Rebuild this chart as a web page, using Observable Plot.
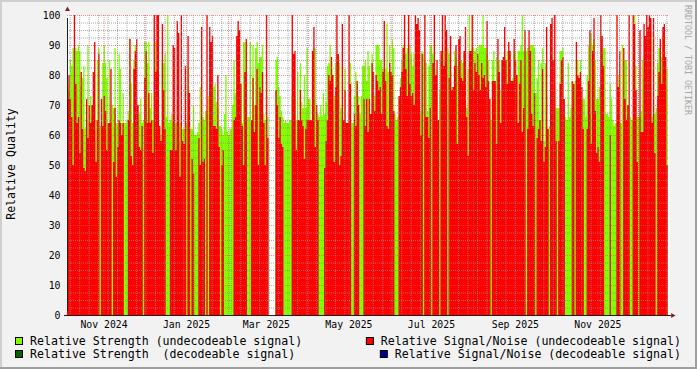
<!DOCTYPE html>
<html><head><meta charset="utf-8">
<script src="https://cdn.jsdelivr.net/npm/d3@7"></script>
<script src="https://cdn.jsdelivr.net/npm/@observablehq/plot@0.6"></script>
<style>
html,body{margin:0;padding:0;background:#F2F2F2;}
#chart{position:relative;width:697px;height:369px;overflow:hidden;background:#F2F2F2;}
#chart svg{display:block;}
</style></head><body><div id="chart"></div>
<script>
const startDate = "2024-10-05";
const endDate = "2025-12-24";
// Relative Signal/Noise (undecodeable), one value per day
const snr = [
72,80,72,66,50,100,77,64,66,54,
81,62,49,48,72,59,70,64,70,81,
91,51,65,87,0,72,63,73,68,55,
64,64,82,0,51,69,46,56,65,64,
60,64,0,0,0,65,92,53,50,82,
88,92,70,56,55,63,0,79,88,64,
74,64,65,54,100,81,100,100,63,58,
97,75,62,0,0,0,55,55,90,89,
55,98,94,46,100,58,57,83,0,93,
74,0,52,47,0,0,0,59,50,96,
51,52,0,100,0,96,91,93,63,63,
62,80,56,0,50,55,0,0,0,0,
0,0,0,65,66,93,98,95,77,63,
50,81,92,0,0,0,65,79,61,70,
82,50,76,74,81,64,50,100,59,null,
null,null,null,null,75,70,59,66,57,56,
0,0,0,0,0,0,100,87,88,55,
65,65,75,65,63,52,62,65,65,65,
65,88,96,56,70,65,0,0,0,0,
49,58,65,80,78,86,80,51,76,100,
87,50,53,97,65,75,64,64,100,77,
0,0,67,63,78,70,0,0,0,72,
63,72,61,72,67,84,81,68,80,78,
75,76,67,81,98,78,63,62,84,81,
80,68,0,0,0,73,76,81,89,100,
82,73,100,77,73,74,70,100,97,99,
95,60,87,0,100,66,66,59,69,0,
84,100,80,85,65,0,88,100,83,100,
95,0,79,93,75,76,83,90,57,92,
93,79,78,88,96,66,53,88,88,100,
75,84,81,87,80,75,84,79,80,76,
98,78,72,0,78,78,78,57,92,81,
64,85,86,96,85,77,91,88,78,78,
92,85,80,64,77,85,61,69,95,0,
62,95,88,67,63,74,0,59,62,65,
58,82,51,56,96,62,0,97,99,85,
100,58,0,58,77,85,86,72,0,0,
0,0,0,78,77,0,91,80,79,81,
76,62,0,0,62,78,95,57,88,99,
68,54,56,51,100,93,83,0,0,0,
0,60,0,0,0,0,100,76,88,0,
0,89,72,65,70,100,0,0,100,97,
75,51,0,95,61,61,97,93,100,96,
100,99,64,99,54,0,73,81,92,77,
96,97,86,50
];
// Relative Strength (undecodeable), one value per day
const strength = [
77,75,85,83,89,88,89,88,90,88,
76,79,83,62,65,90,64,73,66,66,
58,65,85,89,63,63,84,90,84,79,
64,85,64,70,69,89,64,64,87,82,
64,74,64,64,65,68,92,77,64,85,
90,70,65,67,72,64,65,91,91,84,
91,69,74,65,65,91,70,70,63,60,
85,84,87,66,100,64,65,67,64,64,
64,64,58,64,64,62,62,62,64,83,
64,62,62,70,60,60,61,64,76,66,
66,65,68,68,73,64,64,64,76,77,
71,69,63,63,62,60,67,80,61,60,
62,62,70,85,74,66,64,84,77,64,
91,91,65,66,66,91,65,90,70,89,
91,84,86,86,90,67,65,79,66,null,
null,null,null,null,85,86,76,73,68,66,
64,65,64,64,65,65,73,64,73,65,
81,64,84,71,69,80,69,89,72,72,
65,65,72,89,68,67,66,70,66,74,
67,71,83,84,90,82,68,73,84,87,
79,84,69,66,65,82,64,64,64,84,
64,64,73,81,78,73,67,73,83,83,
85,78,88,83,60,87,68,73,90,90,
90,85,85,82,53,82,97,81,90,53,
92,89,67,65,66,73,79,85,90,88,
87,89,85,90,87,83,87,70,87,79,
65,68,88,87,85,84,68,83,90,90,
87,77,82,65,65,75,85,73,88,81,
70,89,87,81,76,76,88,86,83,87,
80,85,84,87,84,69,82,100,88,89,
89,88,89,87,90,90,90,100,89,89,
87,85,72,65,85,88,73,86,81,85,
75,52,52,87,52,88,88,69,78,79,
87,88,59,88,88,90,100,88,88,88,
89,88,90,90,90,89,74,79,85,65,
84,89,58,84,73,62,63,54,47,85,
76,69,69,69,88,88,89,66,66,65,
84,66,69,78,77,78,85,85,71,85,
76,72,72,66,80,90,67,94,90,92,
85,72,72,76,76,87,89,89,67,67,
66,77,72,65,63,64,64,80,64,64,
90,71,85,85,67,65,66,65,65,100,
83,66,66,66,68,85,79,90,89,89,
97,94,66,94,67,69,84,89,89,86,
93,86,76,82
];
const yMajor = [0,10,20,30,40,50,60,70,80,90,100];
const yMinor = [2.5,5,7.5,12.5,15,17.5,22.5,25,27.5,32.5,35,37.5,42.5,45,47.5,52.5,55,57.5,62.5,65,67.5,72.5,75,77.5,82.5,85,87.5,92.5,95,97.5];
const labelDates = ["2024-11-01","2025-01-01","2025-03-01","2025-05-01","2025-07-01","2025-09-01","2025-11-01"];
const yTitle = "Relative Quality";
const watermark = "RRDTOOL / TOBI OETIKER";
const legendLeft = [
  {label: "Relative Strength (undecodeable signal)", color: "#80FF00"},
  {label: "Relative Strength  (decodeable signal)", color: "#006400"}
];
const legendRight = [
  {label: "Relative Signal/Noise (undecodeable signal)", color: "#FF0000"},
  {label: "Relative Signal/Noise (decodeable signal)", color: "#000090"}
];

const N = snr.length;
const t0 = new Date(startDate + "T00:00:00Z");
const tEnd = new Date(endDate + "T00:00:00Z");
const day = i => d3.utcDay.offset(t0, i);

function stepRows(values) {
  const rows = [];
  values.forEach((v, i) => {
    rows.push({date: day(i), v});
    if (v != null && (i === values.length - 1 || values[i + 1] == null)) rows.push({date: day(i + 1), v});
  });
  return rows;
}

const gridColor = "rgba(143,143,143,0.75)";
const mgridColor = "rgba(222,79,79,0.6)";
const weekLines = d3.utcMonday.range(t0, tEnd);
const monthLines = d3.utcMonth.range(t0, tEnd);

const plot = Plot.plot({
  width: 697, height: 369,
  marginLeft: 67, marginRight: 27.9, marginTop: 15, marginBottom: 54,
  style: {background: "transparent", fontFamily: "'DejaVu Sans Mono', monospace", fontSize: "9.8px", color: "#000", overflow: "visible"},
  x: {type: "utc", domain: [t0, tEnd]},
  y: {domain: [0, 100]},
  marks: [
    Plot.frame({fill: "white", stroke: "none"}),
    Plot.areaY(stepRows(strength), {x: "date", y1: 0, y2: "v", curve: "step-after", fill: "#80FF00"}),
    Plot.areaY(stepRows(snr), {x: "date", y1: 0, y2: "v", curve: "step-after", fill: "#FF0000"}),
    Plot.ruleY(yMinor, {stroke: gridColor, strokeDasharray: "1,1"}),
    Plot.ruleX(weekLines, {stroke: gridColor, strokeDasharray: "1,1"}),
    Plot.ruleX(monthLines, {stroke: mgridColor, strokeDasharray: "1,1"}),
    Plot.ruleY(yMajor.filter(v => v > 0), {stroke: mgridColor, strokeDasharray: "1,1"}),
    Plot.ruleY([0], {stroke: "#1f1f1f", insetLeft: -3, insetRight: -2}),
    Plot.ruleX([t0], {y1: 0, y2: 100, stroke: "#1f1f1f", insetTop: -4, insetBottom: -3}),
    Plot.dot([tEnd], {x: d => d, y: 0, symbol: "triangle2", rotate: 90, r: 2.4, fill: "#801f1f", dx: 3}),
    Plot.dot([t0], {x: d => d, y: 100, symbol: "triangle2", r: 2.4, fill: "#801f1f", dy: -6}),
    Plot.axisY(yMajor, {tickSize: 0, tickPadding: 7, label: null}),
    Plot.axisX(labelDates.map(d => new Date(d + "T00:00:00Z")), {tickSize: 0, tickPadding: 6, tickFormat: d3.utcFormat("%b %Y"), label: null})
  ]
});
document.getElementById("chart").appendChild(plot);

const svg = d3.select(plot);
const mono = "'DejaVu Sans Mono', monospace";
// y title
svg.append("text")
  .attr("transform", "translate(15,164) rotate(-90)")
  .attr("text-anchor", "middle")
  .attr("font-family", mono)
  .attr("font-size", "11.6px").attr("fill", "#000")
  .text(yTitle);
// watermark
svg.append("text")
  .attr("transform", "translate(685,5) rotate(90)")
  .attr("text-anchor", "start")
  .attr("font-family", mono)
  .attr("font-size", "8.3px").attr("fill", "#a6a6a6")
  .text(watermark);
// legend
const rowsY = [345, 358];
const lg = svg.append("g").attr("font-family", mono).attr("font-size", "11.6px").attr("fill", "#000");
legendLeft.forEach((it, i) => {
  lg.append("rect").attr("x", 15.5).attr("y", rowsY[i] - 7.5).attr("width", 7).attr("height", 7).attr("fill", it.color).attr("stroke", "#000");
  lg.append("text").attr("x", 30).attr("y", rowsY[i]).attr("text-anchor", "start").style("white-space", "pre").text(it.label);
});
legendRight.forEach((it, i) => {
  const t = lg.append("text").attr("x", 681).attr("y", rowsY[i]).attr("text-anchor", "end").style("white-space", "pre").text(it.label);
  const w = t.node().getComputedTextLength();
  lg.append("rect").attr("x", 681 - w - 14.5).attr("y", rowsY[i] - 7.5).attr("width", 7).attr("height", 7).attr("fill", it.color).attr("stroke", "#000");
});
// 3D frame
const fr = svg.append("g");
fr.append("rect").attr("x", 0).attr("y", 0).attr("width", 697).attr("height", 2).attr("fill", "#CFCFCF");
fr.append("rect").attr("x", 0).attr("y", 0).attr("width", 2).attr("height", 369).attr("fill", "#CFCFCF");
fr.append("rect").attr("x", 695).attr("y", 0).attr("width", 2).attr("height", 369).attr("fill", "#9E9E9E");
fr.append("rect").attr("x", 0).attr("y", 367).attr("width", 697).attr("height", 2).attr("fill", "#9E9E9E");
</script></body></html>
